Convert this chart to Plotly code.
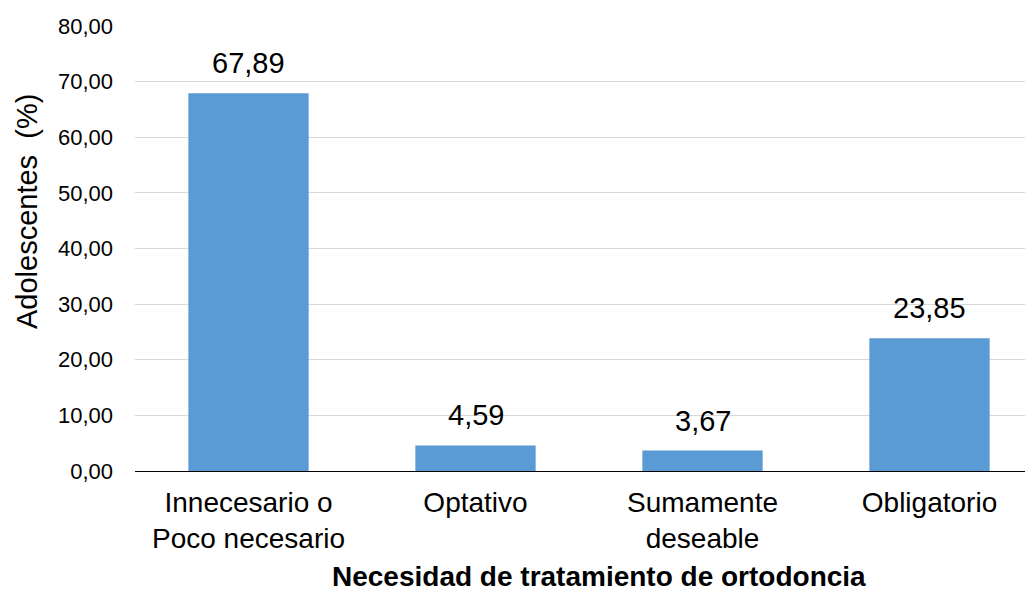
import plotly.graph_objects as go

categories = ["Innecesario o<br>Poco necesario", "Optativo", "Sumamente<br>deseable", "Obligatorio"]
values = [67.89, 4.59, 3.67, 23.85]
y_ticks = [0, 10, 20, 30, 40, 50, 60, 70, 80]

FONT = "Liberation Sans, Arial, sans-serif"

# page has an 8px body margin; figure is sized to fit the window
W, H = 1025, 587
L, T, B, R = 127, 18, 124, 0
PW = W - L - R
PH = H - T - B

fig = go.Figure()
fig.add_trace(go.Bar(
    x=list(range(len(categories))),
    y=values,
    width=0.53,
    marker=dict(color="#5B9BD5", line=dict(width=0)),
    hoverinfo="skip",
))

for i, v in enumerate(values):
    fig.add_annotation(
        x=i, y=v, xref="x", yref="y",
        text=f"{v:.2f}".replace(".", ","),
        showarrow=False, yanchor="bottom", yshift=12,
        font=dict(family=FONT, size=29, color="#000000"),
    )

fig.add_annotation(
    x=(27 - 135) / PW, y=(471 - 212) / PH, xref="paper", yref="paper",
    text="Adolescentes\u00a0\u00a0(%)", textangle=-90, showarrow=False,
    xanchor="center", yanchor="middle",
    font=dict(family=FONT, size=29, color="#000000"),
)
fig.add_annotation(
    x=(599 - 135) / PW, y=-(593 - 471) / PH, xref="paper", yref="paper",
    text="<b>Necesidad de tratamiento de ortodoncia</b>", showarrow=False,
    xanchor="center", yanchor="bottom", borderpad=0,
    font=dict(family=FONT, size=28, color="#000000"),
)

fig.update_layout(
    width=W, height=H,
    margin=dict(l=L, r=R, t=T, b=B),
    paper_bgcolor="white", plot_bgcolor="white",
    separators=",.",
    showlegend=False,
    font=dict(family=FONT, color="#000000"),
    xaxis=dict(
        tickmode="array", tickvals=list(range(len(categories))), ticktext=categories,
        range=[-0.5, -0.5 + PW / 227],
        showgrid=False, zeroline=False,
        showline=False, ticks="",
        tickfont=dict(family=FONT, size=28, color="#000000"),
        ticklabelstandoff=12,
    ),
    yaxis=dict(
        range=[0, 80], tickvals=y_ticks, tickformat=".2f",
        showgrid=True, gridcolor="#D9D9D9", gridwidth=1,
        zeroline=True, zerolinecolor="#000000", zerolinewidth=1.3,
        showline=False, ticks="",
        tickfont=dict(family=FONT, size=22, color="#000000"),
        ticklabelstandoff=21,
    ),
)

fig.write_html("out.html")
